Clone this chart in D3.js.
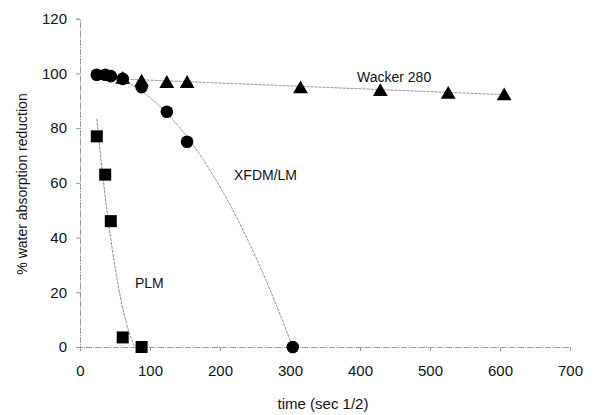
<!DOCTYPE html>
<html>
<head>
<meta charset="utf-8">
<script src="https://cdn.jsdelivr.net/npm/d3@7"></script>
<style>
  body { margin: 0; background: #fff; }
  text { font-family: "Liberation Sans", Arial, sans-serif; fill: #111; }
</style>
</head>
<body>
<div id="chart"></div>
<script>
const plmTime = [24, 36, 44, 61, 88];
const plmValue = [77, 63, 46, 3.5, 0];

const xfdmTime = [24, 36, 44, 61, 88, 124, 153, 304];
const xfdmValue = [99.5, 99.5, 99, 98, 95, 86, 75, 0];

const wackerTime = [61, 88, 124, 153, 315, 429, 526, 606];
const wackerValue = [98.5, 97.5, 97, 97, 95, 94, 93, 92.5];

const xTicks = [0, 100, 200, 300, 400, 500, 600, 700];
const yTicks = [0, 20, 40, 60, 80, 100, 120];

const W = 600, H = 415;
const padL = 80, padR = 570, padT = 18.7, padB = 347;

const svg = d3.select("#chart").append("svg")
  .attr("width", W).attr("height", H);

const x = d3.scaleLinear().domain([0, 700]).range([padL, padR]);
const y = d3.scaleLinear().domain([0, 120]).range([padB, padT]);

// least squares polynomial, like the excel trendlines
function polyfit(xs, ys, order) {
  const n = order + 1;
  const A = [];
  for (let i = 0; i < n; i++) {
    A.push([]);
    for (let j = 0; j <= n; j++) A[i].push(0);
  }
  xs.forEach((xv, k) => {
    for (let i = 0; i < n; i++) {
      for (let j = 0; j < n; j++) A[i][j] += Math.pow(xv, i + j);
      A[i][n] += ys[k] * Math.pow(xv, i);
    }
  });
  for (let i = 0; i < n; i++) {
    for (let r = i + 1; r < n; r++) {
      const f = A[r][i] / A[i][i];
      for (let c = i; c <= n; c++) A[r][c] -= f * A[i][c];
    }
  }
  const coef = new Array(n).fill(0);
  for (let i = n - 1; i >= 0; i--) {
    let s = A[i][n];
    for (let j = i + 1; j < n; j++) s -= A[i][j] * coef[j];
    coef[i] = s / A[i][i];
  }
  return v => coef.reduce((s, c, i) => s + c * Math.pow(v, i), 0);
}

svg.append("clipPath").attr("id", "plot")
  .append("rect")
  .attr("x", padL).attr("y", padT)
  .attr("width", padR - padL).attr("height", padB - padT);

// axes
const xAxis = svg.append("g")
  .attr("transform", `translate(0,${padB})`)
  .call(d3.axisBottom(x).tickValues(xTicks).tickSize(4).tickPadding(14));
const yAxis = svg.append("g")
  .attr("transform", `translate(${padL},0)`)
  .call(d3.axisLeft(y).tickValues(yTicks).tickSize(4).tickPadding(9));

[xAxis, yAxis].forEach(a => {
  a.select(".domain").attr("stroke", "#999").attr("stroke-dasharray", "6,1,1,1");
  a.selectAll(".tick line").attr("stroke", "#999");
  a.selectAll(".tick text").style("font-size", "15px").attr("fill", "#111");
});

// trendlines
const trend = svg.append("g").attr("clip-path", "url(#plot)")
  .attr("fill", "none").attr("stroke", "#888").attr("stroke-width", 1)
  .attr("stroke-dasharray", "3,1");

function drawTrend(ts, vs, order) {
  const f = polyfit(ts, vs, order);
  const lo = d3.min(ts), hi = d3.max(ts);
  const pts = d3.range(lo, hi + 0.5, 1).map(t => [t, f(t)]);
  trend.append("path")
    .attr("d", d3.line().x(d => x(d[0])).y(d => y(d[1]))(pts));
}
drawTrend(plmTime, plmValue, 2);
drawTrend(xfdmTime, xfdmValue, 2);
drawTrend(wackerTime, wackerValue, 1);

// markers (triangle nudged so its box, not its centroid, sits on the value)
const tri = d3.symbol().type(d3.symbolTriangle).size(95);
svg.append("g").selectAll("path")
  .data(wackerTime.map((t, i) => [t, wackerValue[i]]))
  .join("path")
  .attr("d", tri)
  .attr("transform", d => `translate(${x(d[0])},${y(d[1]) + 2})`)
  .attr("fill", "#000");

svg.append("g").selectAll("circle")
  .data(xfdmTime.map((t, i) => [t, xfdmValue[i]]))
  .join("circle")
  .attr("cx", d => x(d[0])).attr("cy", d => y(d[1]))
  .attr("r", 6.3).attr("fill", "#000");

svg.append("g").selectAll("rect")
  .data(plmTime.map((t, i) => [t, plmValue[i]]))
  .join("rect")
  .attr("x", d => x(d[0]) - 6).attr("y", d => y(d[1]) - 6)
  .attr("width", 12).attr("height", 12).attr("fill", "#000");

// series labels
svg.append("text").attr("x", 357).attr("y", 82).style("font-size", "14px").text("Wacker 280");
svg.append("text").attr("x", 234).attr("y", 180).style("font-size", "14px").text("XFDM/LM");
svg.append("text").attr("x", 135).attr("y", 288).style("font-size", "14px").text("PLM");

// axis titles
svg.append("text")
  .attr("x", x(350) - 2).attr("y", 409)
  .attr("text-anchor", "middle").style("font-size", "15px")
  .text("time (sec 1/2)");
svg.append("text")
  .attr("transform", "translate(27,184) rotate(-90)")
  .attr("text-anchor", "middle").style("font-size", "14px")
  .text("% water absorption reduction");
</script>
</body>
</html>
